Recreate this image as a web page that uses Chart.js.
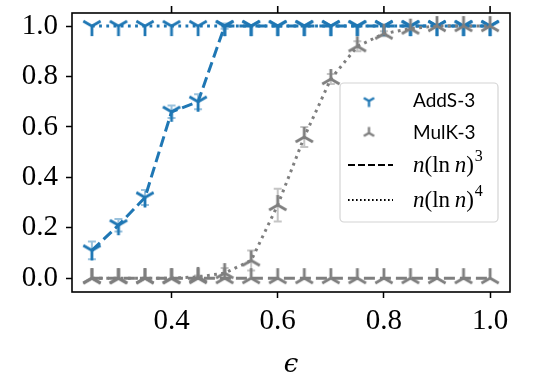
<!DOCTYPE html>
<html>
<head>
<meta charset="utf-8">
<script src="https://cdn.jsdelivr.net/npm/chart.js@4.4.1/dist/chart.umd.min.js"></script>
<style>
  html, body { margin: 0; padding: 0; background: #fff; }
  #wrap { width: 554px; height: 389px; position: relative; }
</style>
</head>
<body>
<div id="wrap"><canvas id="chart"></canvas></div>
<script>
// data
const epsValues = [0.25, 0.3, 0.35, 0.4, 0.45, 0.5, 0.55, 0.6, 0.65, 0.7, 0.75, 0.8, 0.85, 0.9, 0.95, 1.0];

const addsLn3 = [0.11, 0.21, 0.32, 0.66, 0.70, 1.0, 1.0, 1.0, 1.0, 1.0, 1.0, 1.0, 1.0, 1.0, 1.0, 1.0];
const addsLn3Err = [0.035, 0.025, 0.03, 0.025, 0.03, 0.01, 0, 0, 0, 0, 0, 0, 0, 0, 0, 0];

const addsLn4 = [1.0, 1.0, 1.0, 1.0, 1.0, 1.0, 1.0, 1.0, 1.0, 1.0, 1.0, 1.0, 1.0, 1.0, 1.0, 1.0];
const addsLn4Err = [0, 0, 0, 0, 0, 0, 0, 0, 0, 0, 0, 0, 0, 0, 0, 0];

const mulkLn3 = [0, 0, 0, 0, 0, 0, 0, 0, 0, 0, 0, 0, 0, 0, 0, 0];
const mulkLn3Err = [0, 0, 0, 0, 0, 0, 0, 0, 0, 0, 0, 0, 0, 0, 0, 0];

const mulkLn4 = [0, 0, 0, 0, 0.005, 0.02, 0.07, 0.29, 0.56, 0.79, 0.92, 0.97, 0.99, 1.0, 1.0, 1.0];
const mulkLn4Err = [0, 0, 0, 0, 0.005, 0.02, 0.04, 0.065, 0.04, 0.02, 0.02, 0.01, 0.005, 0, 0, 0];

const xTicks = [0.4, 0.6, 0.8, 1.0];
const yTicks = [0.0, 0.2, 0.4, 0.6, 0.8, 1.0];

const BLUE = "#1f77b4";
const GRAY = "#7f7f7f";

function makeTri(color, up, arm, lw) {
  const size = Math.ceil(arm * 2 + lw * 2);
  const c = document.createElement("canvas");
  c.width = size;
  c.height = size;
  const ctx = c.getContext("2d");
  const cx = size / 2;
  const cy = size / 2;
  ctx.strokeStyle = color;
  ctx.lineWidth = lw;
  ctx.lineCap = "butt";
  const angles = up ? [-90, 30, 150] : [90, -30, -150];
  ctx.beginPath();
  angles.forEach((a) => {
    const r = a * Math.PI / 180;
    ctx.moveTo(cx, cy);
    ctx.lineTo(cx + arm * Math.cos(r), cy + arm * Math.sin(r));
  });
  ctx.stroke();
  return c;
}

const blueTri = makeTri(BLUE, false, 10, 2.8);
const grayTri = makeTri(GRAY, true, 10, 2.8);
const blueTriSmall = makeTri(BLUE, false, 6, 2.3);
const grayTriSmall = makeTri(GRAY, true, 6, 2.3);

function toPoints(values) {
  return epsValues.map((x, i) => ({ x: x, y: values[i] }));
}

const DASH = [11, 5];
const DOT = [2.8, 4.4];

function series(label, values, err, color, dash, marker, order) {
  return {
    label: label,
    data: toPoints(values),
    errors: err,
    borderColor: color,
    backgroundColor: color,
    borderWidth: 3,
    borderDash: dash,
    borderCapStyle: "butt",
    pointStyle: marker,
    pointRadius: 10,
    pointHoverRadius: 10,
    tension: 0,
    fill: false,
    order: order
  };
}

const errorBarPlugin = {
  id: "errorBars",
  beforeDatasetsDraw(chart) {
    const ctx = chart.ctx;
    const xs = chart.scales.x;
    const ys = chart.scales.y;
    ctx.save();
    chart.data.datasets.forEach((ds) => {
      ctx.strokeStyle = ds.borderColor;
      ctx.globalAlpha = 0.45;
      ctx.lineWidth = 2;
      ds.data.forEach((p, i) => {
        const e = ds.errors[i];
        if (!e) return;
        const px = xs.getPixelForValue(p.x);
        const top = ys.getPixelForValue(p.y + e);
        const bot = ys.getPixelForValue(p.y - e);
        ctx.beginPath();
        ctx.moveTo(px, top);
        ctx.lineTo(px, bot);
        ctx.moveTo(px - 4, top);
        ctx.lineTo(px + 4, top);
        ctx.moveTo(px - 4, bot);
        ctx.lineTo(px + 4, bot);
        ctx.stroke();
      });
    });
    ctx.restore();
  }
};

function drawMathLabel(ctx, x, y, power) {
  let cx = x;
  const italic = "italic 23px 'Liberation Serif'";
  const roman = "23px 'Liberation Serif'";
  const parts = [
    [italic, "n"], [roman, "(ln\u2009"], [italic, "n"], [roman, ")"]
  ];
  parts.forEach(([font, txt]) => {
    ctx.font = font;
    ctx.fillText(txt, cx, y);
    cx += ctx.measureText(txt).width;
  });
  ctx.font = "16px 'Liberation Serif'";
  ctx.fillText(String(power), cx + 1, y - 9);
}

const framePlugin = {
  id: "frame",
  afterDraw(chart) {
    const ctx = chart.ctx;
    const a = chart.chartArea;
    const xs = chart.scales.x;
    ctx.save();
    ctx.strokeStyle = "#000";
    ctx.lineWidth = 1.6;
    ctx.strokeRect(a.left, a.top, a.right - a.left, a.bottom - a.top);
    // small ticks poking above the top frame
    ctx.beginPath();
    xTicks.forEach((v) => {
      const px = xs.getPixelForValue(v);
      ctx.moveTo(px, a.top - 7);
      ctx.lineTo(px, a.top);
    });
    ctx.stroke();

    // legend
    const lx = 340, ly = 83, lw = 158, lh = 139;
    ctx.fillStyle = "rgba(255,255,255,0.8)";
    ctx.strokeStyle = "#d4d4d4";
    ctx.lineWidth = 1.2;
    ctx.beginPath();
    ctx.roundRect(lx, ly, lw, lh, 4);
    ctx.fill();
    ctx.stroke();

    ctx.fillStyle = "#000";
    ctx.textBaseline = "middle";
    ctx.textAlign = "left";
    ctx.drawImage(blueTriSmall, 369 - blueTriSmall.width / 2, 101 - blueTriSmall.height / 2);
    ctx.drawImage(grayTriSmall, 369 - grayTriSmall.width / 2, 133 - grayTriSmall.height / 2);
    ctx.font = "19px Lato";
    ctx.fillText("AddS-3", 413, 101);
    ctx.fillText("MulK-3", 413, 133);

    ctx.strokeStyle = "#000";
    ctx.lineWidth = 2.2;
    ctx.lineCap = "butt";
    ctx.setLineDash([7, 3]);
    ctx.beginPath();
    ctx.moveTo(348, 165);
    ctx.lineTo(393, 165);
    ctx.stroke();
    ctx.setLineDash([1.6, 2.4]);
    ctx.beginPath();
    ctx.moveTo(348, 200);
    ctx.lineTo(393, 200);
    ctx.stroke();
    ctx.setLineDash([]);

    drawMathLabel(ctx, 413, 166, 3);
    drawMathLabel(ctx, 413, 201, 4);
    ctx.restore();
  }
};

const ctxEl = document.getElementById("chart");
new Chart(ctxEl, {
  type: "line",
  data: {
    datasets: [
      series("AddS-3 n(ln n)^3", addsLn3, addsLn3Err, BLUE, DASH, blueTri, 4),
      series("AddS-3 n(ln n)^4", addsLn4, addsLn4Err, BLUE, DOT, blueTri, 3),
      series("MulK-3 n(ln n)^3", mulkLn3, mulkLn3Err, GRAY, DASH, grayTri, 2),
      series("MulK-3 n(ln n)^4", mulkLn4, mulkLn4Err, GRAY, DOT, grayTri, 1)
    ]
  },
  options: {
    responsive: true,
    maintainAspectRatio: false,
    animation: false,
    events: [],
    layout: { padding: { top: 12, right: 44, left: 0, bottom: 0 } },
    plugins: {
      legend: { display: false },
      tooltip: { enabled: false }
    },
    scales: {
      x: {
        type: "linear",
        min: 0.2125,
        max: 1.0375,
        afterBuildTicks: (scale) => {
          scale.ticks = xTicks.map((v) => ({ value: v }));
        },
        afterFit: (scale) => {
          scale.height = 97;
          scale.paddingLeft = 0;
          scale.paddingRight = 0;
        },
        border: { display: false },
        grid: { drawOnChartArea: false, drawTicks: true, tickLength: 6, tickWidth: 1.5, color: "#000" },
        ticks: {
          color: "#000",
          padding: 6,
          font: { family: "'Liberation Serif'", size: 29 },
          callback: (v) => Number(v).toFixed(1)
        },
        title: {
          display: true,
          text: "\u03f5",
          color: "#000",
          font: { family: "'DejaVu Serif'", size: 26, style: "italic" },
          padding: { top: 0, bottom: 8 }
        }
      },
      y: {
        type: "linear",
        min: -0.055,
        max: 1.052,
        afterBuildTicks: (scale) => {
          scale.ticks = yTicks.map((v) => ({ value: v }));
        },
        afterFit: (scale) => {
          scale.width = 72;
          scale.paddingTop = 0;
          scale.paddingBottom = 0;
        },
        border: { display: false },
        grid: { drawOnChartArea: false, drawTicks: true, tickLength: 6, tickWidth: 1.5, color: "#000" },
        ticks: {
          color: "#000",
          padding: 8,
          font: { family: "'Liberation Serif'", size: 29 },
          callback: (v) => Number(v).toFixed(1)
        }
      }
    }
  },
  plugins: [errorBarPlugin, framePlugin]
});
</script>
</body>
</html>
